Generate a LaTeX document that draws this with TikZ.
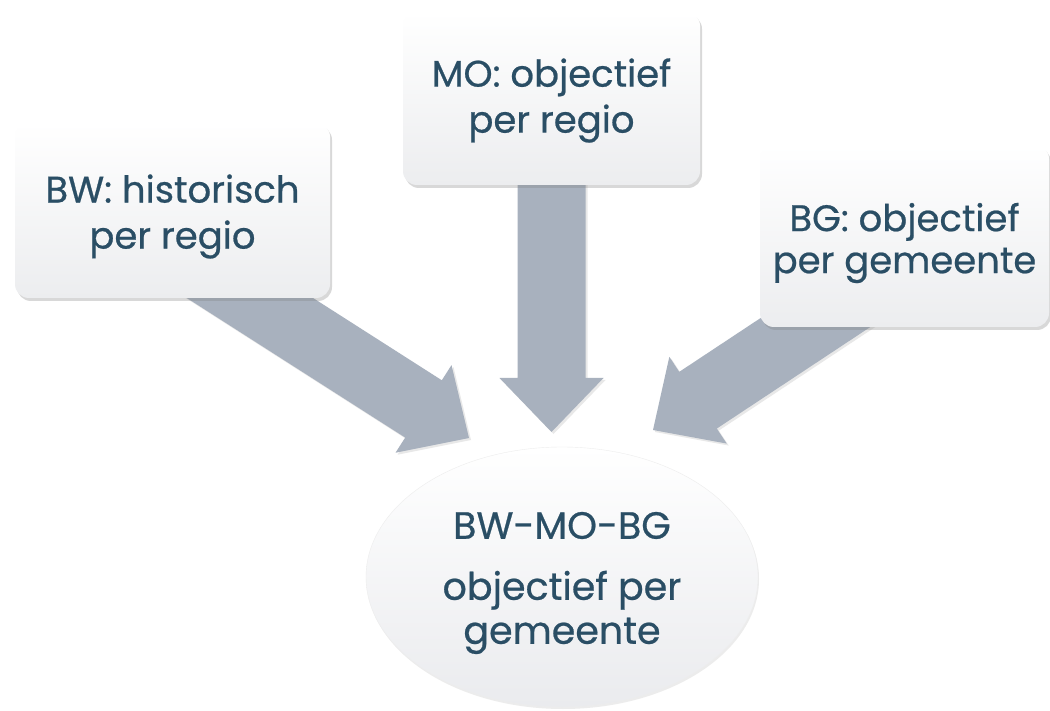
\documentclass[tikz,border=0pt]{standalone}
\usepackage{fontspec}
\setmainfont[FakeBold=0.6]{Poppins}
\usetikzlibrary{calc,shadows,shapes.geometric}
\definecolor{txt}{RGB}{42,78,101}
\definecolor{arr}{RGB}{168,177,190}
\definecolor{boxr}{RGB}{236,237,239}
\definecolor{ellf}{RGB}{234,235,238}
\newcommand\myarrow[2]{%
  \fill[arr,drop shadow={opacity=0.18,shadow xshift=2pt,shadow yshift=-2pt}]
    ($(#1)!34pt!90:(#2)$) -- ($($(#2)!54pt!(#1)$)!34pt!-90:(#1)$)
    -- ($($(#2)!54pt!(#1)$)!52pt!-90:(#1)$) -- (#2)
    -- ($($(#2)!54pt!(#1)$)!52pt!90:(#1)$) -- ($($(#2)!54pt!(#1)$)!34pt!90:(#1)$)
    -- ($(#1)!34pt!-90:(#2)$) -- cycle;}
\tikzset{
  box/.style={rounded corners=14pt, top color=white, bottom color=boxr,
    drop shadow={opacity=0.3,shadow xshift=2pt,shadow yshift=-3pt}, inner sep=0pt},
  lbl/.style={align=center, text=txt, font=\fontsize{37}{46}\selectfont, inner sep=0pt},
}
\begin{document}
\begin{tikzpicture}[x=1pt,y=-1pt]
\useasboundingbox[fill=white] (0,0) rectangle (1050,711);
% arrow anchor coordinates
\coordinate (s1) at (131,222);
\coordinate (t1) at (469,438);
\coordinate (s2) at (551.5,100);
\coordinate (t2) at (551.5,432);
\coordinate (s3) at (987,209);
\coordinate (t3) at (653,430);
\myarrow{s1}{t1}
\myarrow{s2}{t2}
\myarrow{s3}{t3}
\node[box, minimum width=315pt, minimum height=175pt] (bw) at (172.5,210.5) {};
\node[box, minimum width=297pt, minimum height=173pt] (mo) at (551.5,98.5) {};
\node[box, minimum width=289pt, minimum height=182pt] (bg) at (904.5,236) {};
\node[ellipse, minimum width=392pt, minimum height=260pt, top color=white, bottom color=ellf, draw=black!7,
  drop shadow={opacity=0.15,shadow xshift=1pt,shadow yshift=-2pt}, inner sep=0pt] (res) at (562,577) {};
\node[lbl] (bwt) at ($(bw.center)+(0,6)$) {BW: historisch\\per regio};
\node[lbl] (mot) at ($(mo.center)+(0,2)$) {MO: objectief\\per regio};
\node[lbl, font=\fontsize{37}{42}\selectfont] (bgt) at ($(bg.center)+(0,7)$) {BG: objectief\\per gemeente};
\node[lbl, font=\fontsize{38}{44}\selectfont] (rest) at ($(res.center)+(0,6)$) {BW-MO-BG\\[17pt]objectief per\\gemeente};
\end{tikzpicture}
\end{document}
